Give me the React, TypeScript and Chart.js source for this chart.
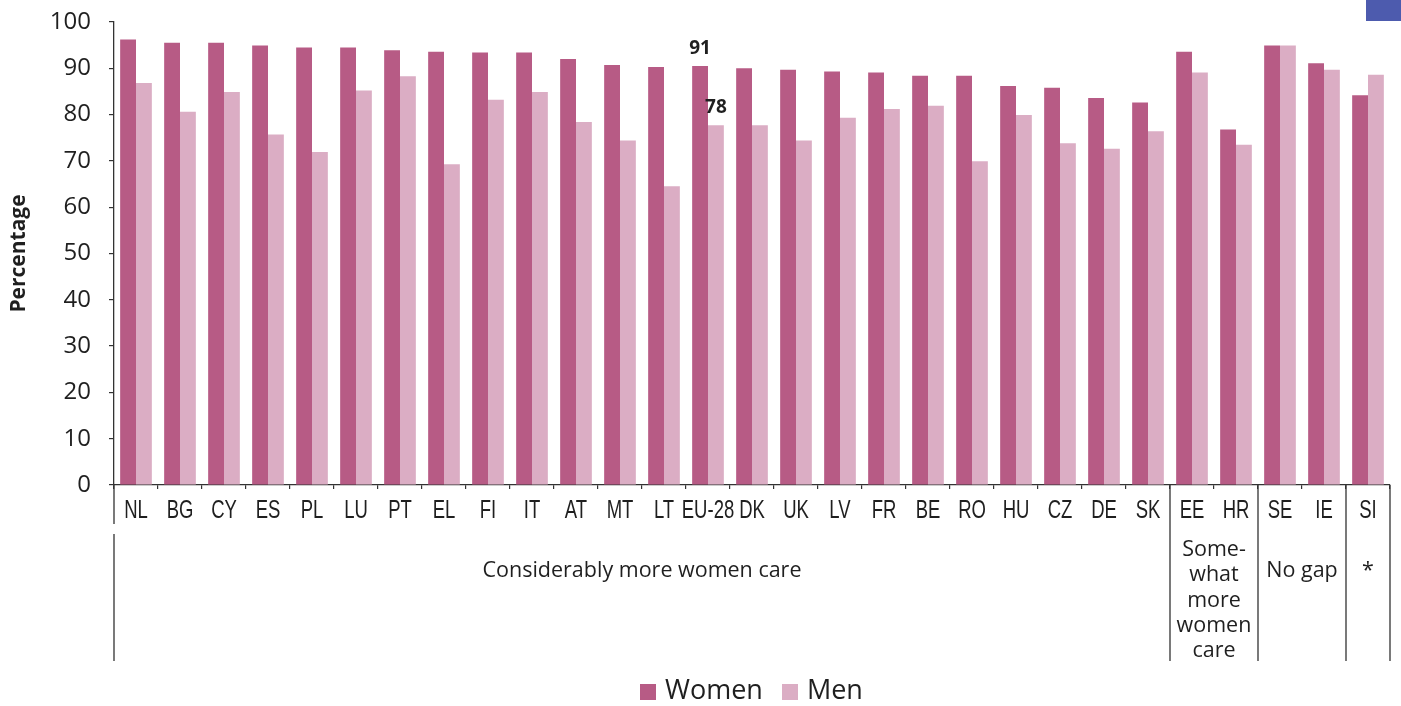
import { useEffect, useRef } from 'react';
import { Chart, registerables } from 'chart.js';
import type { Plugin } from 'chart.js';

Chart.register(...registerables);

const COUNTRIES = [
  'NL', 'BG', 'CY', 'ES', 'PL', 'LU', 'PT', 'EL', 'FI', 'IT', 'AT', 'MT', 'LT', 'EU-28',
  'DK', 'UK', 'LV', 'FR', 'BE', 'RO', 'HU', 'CZ', 'DE', 'SK', 'EE', 'HR', 'SE', 'IE', 'SI',
];
const WOMEN = [
  96.2, 95.5, 95.5, 94.9, 94.5, 94.5, 93.9, 93.6, 93.4, 93.4, 92.0, 90.7, 90.3, 90.5,
  90.0, 89.7, 89.3, 89.1, 88.4, 88.4, 86.2, 85.8, 83.6, 82.6, 93.6, 76.8, 94.9, 91.1, 84.2,
];
const MEN = [
  86.8, 80.6, 84.9, 75.7, 71.9, 85.2, 88.3, 69.3, 83.2, 84.9, 78.4, 74.4, 64.5, 77.7,
  77.7, 74.4, 79.3, 81.2, 81.9, 69.9, 79.9, 73.8, 72.6, 76.4, 89.1, 73.5, 94.9, 89.7, 88.6,
];
const LABELLED = 'EU-28';

// groups below the axis: first category index of each group + its text lines
const GROUP_START = [0, 24, 26, 28];
const GROUP_TEXT = [
  ['Considerably more women care'],
  ['Some-', 'what', 'more', 'women', 'care'],
  ['No gap'],
  ['*'],
];

const WOMEN_COLOR = '#b75b85';
const MEN_COLOR = '#dbadc4';
const INK = '#1f1f1f';
const AXIS = '#333333';

const groupsPlugin: Plugin<'bar'> = {
  id: 'groups',
  afterDraw(chart) {
    const { ctx } = chart;
    const x = chart.scales.x;
    const bottom = chart.chartArea.bottom;
    const step = x.getPixelForValue(1) - x.getPixelForValue(0);
    const edge = (i: number) => x.getPixelForValue(i) - step / 2;
    const lineEnd = bottom + 176;

    ctx.save();

    // country labels, squeezed to a condensed look
    ctx.fillStyle = INK;
    ctx.font = '25px "Liberation Sans", Arial, sans-serif';
    ctx.textAlign = 'center';
    ctx.textBaseline = 'alphabetic';
    const squeeze = 0.74;
    COUNTRIES.forEach((c, i) => {
      ctx.save();
      ctx.translate(x.getPixelForValue(i), bottom + 33);
      ctx.scale(squeeze, 1);
      ctx.fillText(c, 0, 0);
      ctx.restore();
    });

    ctx.strokeStyle = AXIS;
    ctx.lineWidth = 1.3;
    // left edge has a little break in it
    const left = chart.chartArea.left;
    ctx.beginPath();
    ctx.moveTo(left, bottom);
    ctx.lineTo(left, bottom + 39);
    ctx.moveTo(left, bottom + 49);
    ctx.lineTo(left, lineEnd);
    const seps = [...GROUP_START.slice(1).map(edge), chart.chartArea.right];
    seps.forEach((px) => {
      ctx.moveTo(px, bottom);
      ctx.lineTo(px, lineEnd);
    });
    ctx.stroke();

    ctx.font = '21.5px "Open Sans"';
    ctx.textBaseline = 'middle';
    GROUP_START.forEach((start, g) => {
      const end = g + 1 < GROUP_START.length ? GROUP_START[g + 1] : COUNTRIES.length;
      const cx = (edge(start) + edge(end)) / 2;
      const lines = GROUP_TEXT[g];
      const top = lines.length > 1 ? bottom + 65 : bottom + 86;
      lines.forEach((t, k) => ctx.fillText(t, cx, top + k * 25.3));
    });

    // value labels over the EU-28 bars
    const idx = COUNTRIES.indexOf(LABELLED);
    ctx.font = 'bold 19px "Open Sans"';
    ctx.textBaseline = 'bottom';
    [0, 1].forEach((d) => {
      const bar = chart.getDatasetMeta(d).data[idx] as any;
      const v = chart.data.datasets[d].data[idx] as number;
      ctx.fillText(String(Math.round(v)), bar.x, bar.y - 8);
    });
    ctx.restore();
  },
};

export default function App() {
  const canvasRef = useRef<HTMLCanvasElement>(null);

  useEffect(() => {
    if (!canvasRef.current) return;
    Chart.defaults.font.family = '"Open Sans", sans-serif';
    Chart.defaults.color = INK;

    const chart = new Chart(canvasRef.current, {
      type: 'bar',
      data: {
        labels: COUNTRIES,
        datasets: [
          { label: 'Women', data: WOMEN, backgroundColor: WOMEN_COLOR },
          { label: 'Men', data: MEN, backgroundColor: MEN_COLOR },
        ],
      },
      options: {
        responsive: false,
        animation: false,
        layout: { padding: { top: 22, right: 11, bottom: 0, left: 0 } },
        datasets: { bar: { categoryPercentage: 0.72, barPercentage: 1 } },
        plugins: { legend: { display: false }, tooltip: { enabled: false } },
        scales: {
          x: {
            afterFit: (s) => {
              s.height = 221;
            },
            grid: { drawOnChartArea: false, tickLength: 4, color: AXIS, lineWidth: 1.2 },
            border: { color: AXIS, width: 1.3 },
            ticks: { display: false },
          },
          y: {
            min: 0,
            max: 100,
            afterFit: (s) => {
              s.width = 114;
              s.paddingTop = 0;
              s.paddingBottom = 0;
            },
            grid: { drawOnChartArea: false, tickLength: 5, color: AXIS, lineWidth: 1.2 },
            border: { color: AXIS, width: 1.3 },
            ticks: { stepSize: 10, padding: 18, color: INK, font: { size: 24 } },
            title: {
              display: true,
              text: 'Percentage',
              color: INK,
              padding: { top: 6, bottom: 0 },
              font: { size: 21, weight: 'bold' },
            },
          },
        },
      },
      plugins: [groupsPlugin],
    });

    return () => {
      chart.destroy();
    };
  }, []);

  return (
    <div style={{ position: 'fixed', left: 0, top: 0, width: 1401, height: 706, background: '#fff' }}>
      <canvas ref={canvasRef} width={1401} height={706} style={{ display: 'block' }} />
      <div
        style={{ position: 'absolute', left: 1366, top: 0, width: 35, height: 21, background: '#4d5bae' }}
      />
      {/* legend */}
      <div
        style={{
          position: 'absolute',
          left: 640,
          top: 672,
          display: 'flex',
          alignItems: 'center',
          fontFamily: '"Open Sans", sans-serif',
          fontSize: 27,
          color: INK,
          lineHeight: '34px',
        }}
      >
        <span style={{ width: 16, height: 16, background: WOMEN_COLOR, marginRight: 9, marginTop: 6 }} />
        <span>Women</span>
        <span style={{ width: 16, height: 16, background: MEN_COLOR, marginLeft: 19, marginRight: 9, marginTop: 6 }} />
        <span>Men</span>
      </div>
    </div>
  );
}
